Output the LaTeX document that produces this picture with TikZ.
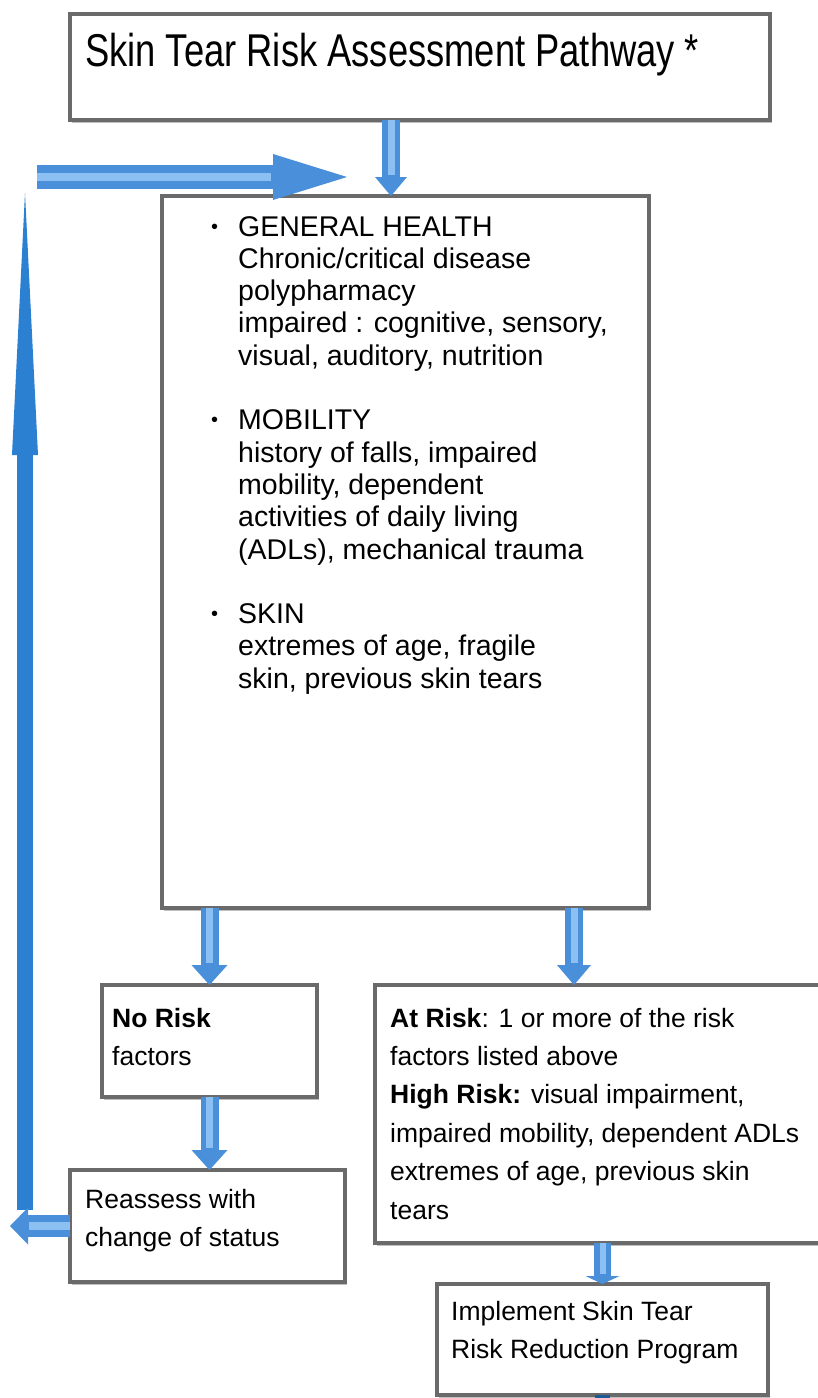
\documentclass[tikz,border=0pt]{standalone}
\usepackage{fontspec}
\setmainfont{Liberation Sans}
\usetikzlibrary{arrows.meta,shadows,calc}
\definecolor{boxline}{HTML}{6A6A6A}
\definecolor{abase}{HTML}{4A8FDA}
\definecolor{alight}{HTML}{8DC0F2}
\definecolor{adark}{HTML}{2B80D2}
\newcommand\myl[1]{\hbox{#1}}
\newcommand\bul{\makebox[27pt][l]{\raisebox{3pt}{\fontsize{20}{20}\selectfont\char"2022}}}
\newcommand\ind{\kern27pt}
\begin{document}
\begin{tikzpicture}[x=1pt,y=-1pt,
  box/.style={draw=boxline, line width=3.2pt, fill=white, inner sep=0pt, outer sep=0pt, anchor=north west,
    drop shadow={shadow xshift=1.5pt, shadow yshift=-2.5pt, fill=black, opacity=0.25}},
  lbl/.style={inner sep=0pt, anchor=base west},
  body/.style={font=\fontsize{26.5}{38.4}\selectfont},
  arr/.style n args={3}{draw=abase, line width=#1, -{Triangle[width=#2,length=#3,line width=0pt]}},
  hl/.style={draw=alight, line width=#1},
]
\useasboundingbox (0,0) rectangle (818,1398);
\fill[white] (0,0) rectangle (818,1398);

% boxes
\node[box, minimum width=700pt, minimum height=106pt] (title) at (70,14) {};
\node[box, minimum width=487pt, minimum height=712pt] (main) at (162,196) {};
\node[box, minimum width=215pt, minimum height=112pt] (norisk) at (102,985) {};
\node[box, minimum width=450pt, minimum height=258pt] (atrisk) at (375,985) {};
\node[box, minimum width=275pt, minimum height=112pt] (reassess) at (70,1170) {};
\node[box, minimum width=331pt, minimum height=111pt] (implement) at (437,1284) {};

% texts
\node[lbl] (ttltxt) at (85,66) {\fontsize{46}{46}\selectfont\scalebox{0.79}[1]{Skin Tear Risk Assessment Pathway *}};

\node[lbl] (maintxt) at (211,236) {\fontsize{28.5}{32.3}\selectfont\vtop{%
  \myl{\bul GENERAL HEALTH}
  \myl{\ind Chronic/critical disease}
  \myl{\ind polypharmacy}
  \myl{\ind impaired : cognitive, sensory,}
  \myl{\ind visual, auditory, nutrition}
  \myl{}
  \myl{\bul MOBILITY}
  \myl{\ind history of falls, impaired}
  \myl{\ind mobility, dependent}
  \myl{\ind activities of daily living}
  \myl{\ind (ADLs), mechanical trauma}
  \myl{}
  \myl{\bul SKIN}
  \myl{\ind extremes of age, fragile}
  \myl{\ind skin, previous skin tears}}};

\node[lbl, body] (noristxt) at (112,1027) {\vtop{%
  \myl{\textbf{No Risk}}
  \myl{factors}}};

\node[lbl, body] (atrisktxt) at (390,1027) {\vtop{%
  \myl{\textbf{At Risk}: 1 or more of the risk}
  \myl{factors listed above}
  \myl{\textbf{High Risk:} visual impairment,}
  \myl{impaired mobility, dependent ADLs}
  \myl{extremes of age, previous skin}
  \myl{tears}}};

\node[lbl, body] (reasstxt) at (85,1208) {\vtop{%
  \myl{Reassess with}
  \myl{change of status}}};

\node[lbl, body] (impltxt) at (451,1320) {\vtop{%
  \myl{Implement Skin Tear}
  \myl{Risk Reduction Program}}};

% connectors
\coordinate (vb) at (25,1210);
\coordinate (vt) at (25,193);
\draw[arr={16pt}{26pt}{262pt}, draw=adark] (vb) -- (vt);

\coordinate (ltip) at (10,1226);
\draw[arr={22pt}{37pt}{18pt}] (reassess.west) -- (ltip);
\draw[hl=8pt, shorten >=19pt] (reassess.west) -- (ltip);

\coordinate (hs) at (37,177);
\coordinate (he) at (347,177);
\draw[arr={24pt}{46pt}{74pt}] (hs) -- (he);
\draw[hl=8pt, shorten >=76pt] (hs) -- (he);

\coordinate (xa) at (391,0);
\draw[arr={18pt}{32pt}{19pt}] (title.south -| xa) -- (main.north -| xa);
\draw[hl=7pt, shorten >=21pt] (title.south -| xa) -- (main.north -| xa);

\draw[arr={18pt}{36pt}{20pt}] (main.south -| norisk.north) -- (norisk.north);
\draw[hl=7pt, shorten >=22pt] (main.south -| norisk.north) -- (norisk.north);

\coordinate (xb) at (574,0);
\draw[arr={18pt}{34pt}{20pt}] (main.south -| xb) -- (atrisk.north -| xb);
\draw[hl=7pt, shorten >=22pt] (main.south -| xb) -- (atrisk.north -| xb);

\draw[arr={18pt}{36pt}{20pt}] (norisk.south) -- (norisk.south |- reassess.north);
\draw[hl=7pt, shorten >=22pt] (norisk.south) -- (norisk.south |- reassess.north);

\draw[arr={17pt}{34pt}{8pt}] (implement.north |- atrisk.south) -- (implement.north);
\draw[hl=6pt, shorten >=10pt] (implement.north |- atrisk.south) -- (implement.north);

\coordinate (stub) at (602.5,1405);
\draw[draw=adark!70!black, line width=15pt] (implement.south) -- (stub);
\end{tikzpicture}
\end{document}
